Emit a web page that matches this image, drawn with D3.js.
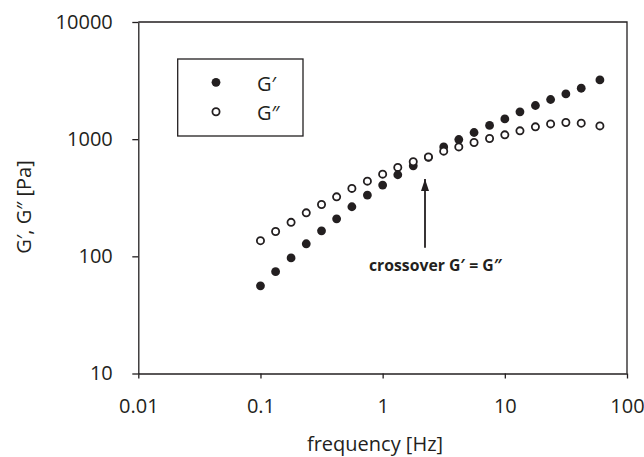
<!DOCTYPE html>
<html>
<head>
<meta charset="utf-8">
<script src="https://cdn.jsdelivr.net/npm/d3@7"></script>
<style>
  body { margin: 0; background: #fff; }
  svg text { font-family: "Open Sans", "Noto Sans", sans-serif; fill: #231f20; }
</style>
</head>
<body>
<div id="chart"></div>
<script>
// frequency sweep values
const freq = [0.1, 0.133, 0.178, 0.237, 0.316, 0.42, 0.56, 0.75, 1, 1.33, 1.78, 2.37,
  3.16, 4.2, 5.6, 7.5, 10, 13.3, 17.8, 23.7, 31.6, 42.2, 60];
const gPrime = [56, 74, 97, 128, 165, 209, 265, 333, 406, 497, 592, 700,
  859, 993, 1140, 1309, 1489, 1710, 1938, 2180, 2432, 2721, 3205];
const gDoublePrime = [136, 163, 195, 235, 277, 322, 380, 438, 503, 574, 641, 706,
  790, 859, 937, 1014, 1089, 1178, 1274, 1350, 1387, 1369, 1298];
const xTicks = [0.01, 0.1, 1, 10, 100];
const yTicks = [10, 100, 1000, 10000];

const ink = "#231f20";
const W = 644, H = 457;
const margin = { top: 22, right: 17, bottom: 83.5, left: 138.3 },
  width = W - margin.left - margin.right,
  height = H - margin.top - margin.bottom;

const svg = d3.select("#chart")
  .append("svg")
  .attr("width", W)
  .attr("height", H);

const g = svg.append("g")
  .attr("transform", `translate(${margin.left},${margin.top})`);

const x = d3.scaleLog().domain([0.01, 100]).range([0, width]);
const y = d3.scaleLog().domain([10, 10000]).range([height, 0]);

// axes
const xAxis = g.append("g")
  .attr("transform", `translate(0,${height})`)
  .call(d3.axisBottom(x).tickValues(xTicks).tickFormat(d => String(d))
    .tickSize(5).tickPadding(20).tickSizeOuter(0));

const yAxis = g.append("g")
  .call(d3.axisLeft(y).tickValues(yTicks).tickFormat(d => String(d))
    .tickSize(6).tickPadding(19.5).tickSizeOuter(0));

[xAxis, yAxis].forEach(a => {
  a.selectAll("path, line").attr("stroke", ink).attr("stroke-width", 1.3);
  a.selectAll("text").attr("font-size", 20).attr("fill", ink);
});

// frame top + right
g.append("path")
  .attr("d", `M0,0H${width}V${height}`)
  .attr("fill", "none")
  .attr("stroke", ink)
  .attr("stroke-width", 1.3);

// data
g.append("g").selectAll("circle")
  .data(freq.map((f, i) => [f, gPrime[i]]))
  .join("circle")
  .attr("cx", d => x(d[0]))
  .attr("cy", d => y(d[1]))
  .attr("r", 4.4)
  .attr("fill", ink);

g.append("g").selectAll("circle")
  .data(freq.map((f, i) => [f, gDoublePrime[i]]))
  .join("circle")
  .attr("cx", d => x(d[0]))
  .attr("cy", d => y(d[1]))
  .attr("r", 3.6)
  .attr("fill", "#fff")
  .attr("stroke", ink)
  .attr("stroke-width", 1.8);

// legend
const legend = svg.append("g");
legend.append("rect")
  .attr("x", 177.7).attr("y", 59)
  .attr("width", 125.3).attr("height", 77)
  .attr("fill", "none")
  .attr("stroke", ink)
  .attr("stroke-width", 1.3);
legend.append("circle")
  .attr("cx", 216).attr("cy", 82.3).attr("r", 4.4).attr("fill", ink);
legend.append("circle")
  .attr("cx", 216).attr("cy", 111.7).attr("r", 3.6)
  .attr("fill", "#fff").attr("stroke", ink).attr("stroke-width", 1.8);
legend.append("text").attr("x", 257).attr("y", 91).attr("font-size", 20).text("G\u2032");
legend.append("text").attr("x", 257).attr("y", 120).attr("font-size", 20).text("G\u2033");

// crossover annotation
svg.append("defs").append("marker")
  .attr("id", "arrow")
  .attr("viewBox", "0 0 12 8")
  .attr("refX", 12).attr("refY", 4)
  .attr("markerWidth", 12).attr("markerHeight", 8)
  .attr("markerUnits", "userSpaceOnUse")
  .attr("orient", "auto")
  .append("path")
  .attr("d", "M0,0L12,4L0,8Z")
  .attr("fill", ink);

svg.append("line")
  .attr("x1", 425).attr("y1", 247.7)
  .attr("x2", 425).attr("y2", 179)
  .attr("stroke", ink)
  .attr("stroke-width", 1.8)
  .attr("marker-end", "url(#arrow)");

svg.append("text")
  .attr("x", 369).attr("y", 271)
  .attr("font-size", 16)
  .attr("font-weight", "bold")
  .attr("textLength", 133)
  .attr("lengthAdjust", "spacingAndGlyphs")
  .text("crossover G\u2032 = G\u2033");

// axis titles
svg.append("text")
  .attr("x", 375).attr("y", 451)
  .attr("text-anchor", "middle")
  .attr("font-size", 20)
  .text("frequency [Hz]");

svg.append("text")
  .attr("transform", "translate(31,207) rotate(-90)")
  .attr("text-anchor", "middle")
  .attr("font-size", 20)
  .text("G\u2032, G\u2033 [Pa]");
</script>
</body>
</html>
